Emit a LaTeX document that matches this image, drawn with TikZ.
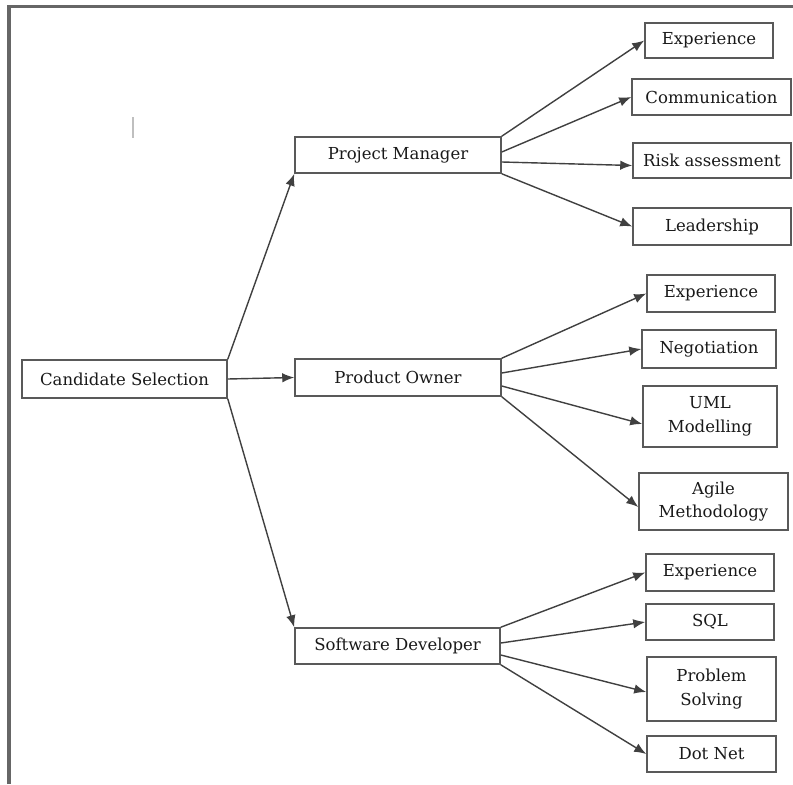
\documentclass[tikz,border=0pt]{standalone}
\usepackage{fontspec}
\setmainfont{DejaVu Serif}
\usetikzlibrary{arrows.meta}
\begin{document}
\begin{tikzpicture}[
			x=0.02cm, y=-0.02cm,
			every node/.style={font=\fontsize{9.4}{13.5}\selectfont, text=black!90},
			box/.style={draw=black!65, line width=0.9pt, inner sep=2pt, align=center},
			arr/.style={draw=black!75, line width=0.8pt, -{Latex[length=0.24cm,width=0.19cm]}}
		]
		\useasboundingbox (0,0) rectangle (793,784);
		\draw[black!60, line width=0.07cm] (9,784) -- (9,6.5) -- (793,6.5);
		\draw[black!25, line width=0.6pt] (133,117) -- (133,138);

		\node[box, minimum width=4.1cm, minimum height=0.76cm] (cs) at (124.5,379) {Candidate Selection};
		\node[box, minimum width=4.12cm, minimum height=0.72cm] (pm) at (398,155) {Project Manager};
		\node[box, minimum width=4.12cm, minimum height=0.74cm] (po) at (398,377.5) {Product Owner};
		\node[box, minimum width=4.1cm, minimum height=0.72cm] (sd) at (397.5,646) {Software Developer};

		\node[box, minimum width=2.56cm, minimum height=0.7cm] (pmexp) at (709,40.5) {Experience};
		\node[box, minimum width=3.18cm, minimum height=0.72cm] (pmcom) at (711.5,97) {Communication};
		\node[box, minimum width=3.16cm, minimum height=0.7cm] (pmrisk) at (712,160.5) {Risk assessment};
		\node[box, minimum width=3.16cm, minimum height=0.74cm] (pmlead) at (712,226.5) {Leadership};

		\node[box, minimum width=2.56cm, minimum height=0.74cm] (poexp) at (711,293.5) {Experience};
		\node[box, minimum width=2.68cm, minimum height=0.76cm] (poneg) at (709,349) {Negotiation};
		\node[box, minimum width=2.68cm, minimum height=1.22cm] (pouml) at (710,416.5) {UML\\Modelling};
		\node[box, minimum width=2.98cm, minimum height=1.14cm] (poagile) at (713.5,501.5) {Agile\\Methodology};

		\node[box, minimum width=2.56cm, minimum height=0.74cm] (sdexp) at (710,572.5) {Experience};
		\node[box, minimum width=2.56cm, minimum height=0.72cm] (sdsql) at (710,622) {SQL};
		\node[box, minimum width=2.58cm, minimum height=1.28cm] (sdps) at (711.5,689) {Problem\\Solving};
		\node[box, minimum width=2.58cm, minimum height=0.72cm] (sdnet) at (711.5,754) {Dot Net};

		\draw[arr] (cs.north east) -- (pm.south west);
		\draw[arr] (cs.east) -- (po.west);
		\draw[arr] (cs.south east) -- (sd.north west);

		\draw[arr] (pm.north east) -- (pmexp.west);
		\draw[arr] ([yshift=0.06cm]pm.east) -- (pmcom.west);
		\draw[arr] ([yshift=-0.14cm]pm.east) -- ([yshift=-0.1cm]pmrisk.west);
		\draw[arr] (pm.south east) -- (pmlead.west);

		\draw[arr] (po.north east) -- (poexp.west);
		\draw[arr] ([yshift=0.09cm]po.east) -- (poneg.west);
		\draw[arr] ([yshift=-0.17cm]po.east) -- ([yshift=-0.15cm]pouml.west);
		\draw[arr] (po.south east) -- ([yshift=-0.11cm]poagile.west);

		\draw[arr] (sd.north east) -- (sdexp.west);
		\draw[arr] ([yshift=0.06cm]sd.east) -- (sdsql.west);
		\draw[arr] ([yshift=-0.18cm]sd.east) -- ([yshift=-0.06cm]sdps.west);
		\draw[arr] (sd.south east) -- (sdnet.west);
	\end{tikzpicture}
\end{document}
